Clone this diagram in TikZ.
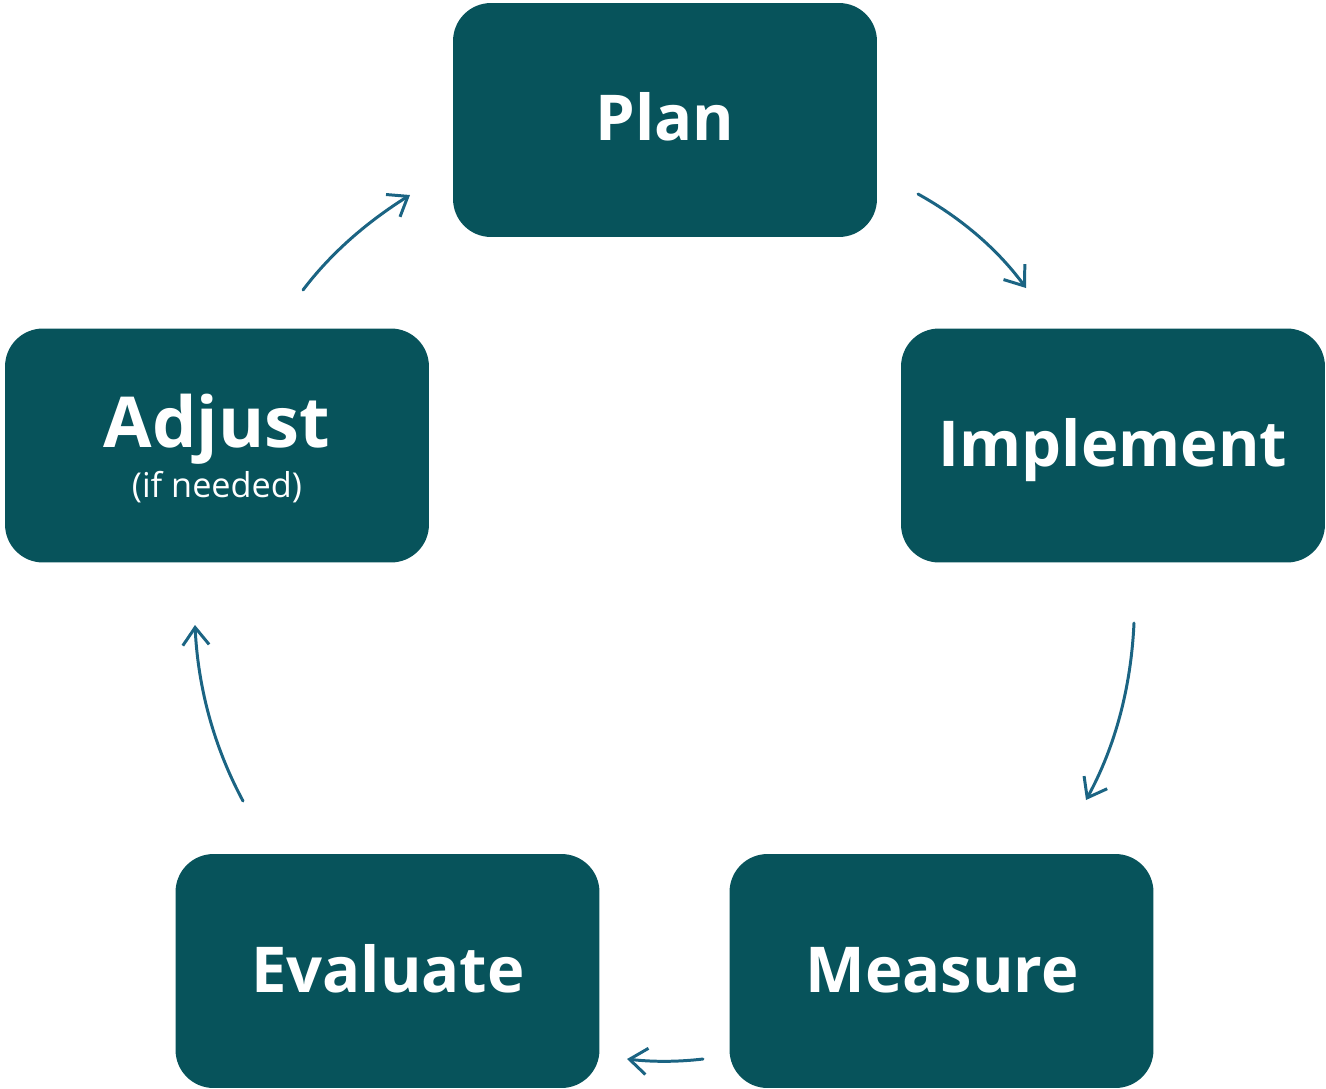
\documentclass[tikz,border=0pt]{standalone}
\usepackage{fontspec}
\setmainfont{Open Sans}
\usetikzlibrary{arrows.meta}
\definecolor{boxfill}{HTML}{07535B}
\definecolor{arrowcol}{HTML}{1B6483}
\begin{document}
\begin{tikzpicture}[x=0.02cm,y=-0.02cm,
  stagebox/.style={fill=boxfill,draw=none,rounded corners=0.76cm,minimum width=8.48cm,minimum height=4.68cm,inner sep=0pt},
  stagelabel/.style={text=white,font=\fontsize{36}{40}\selectfont\bfseries,anchor=base,inner sep=0pt},
  biglabel/.style={text=white,font=\fontsize{40}{44}\selectfont\bfseries,anchor=base,inner sep=0pt},
  sublabel/.style={text=white,font=\fontsize{19.5}{22}\selectfont,anchor=base,inner sep=0pt},
  cyclearrow/.style={draw=arrowcol,line width=1.7pt,line cap=round,-{Straight Barb[length=10pt,width=15pt,line width=1.7pt]}}]
\useasboundingbox (0,0) rectangle (1326,1089);
% boxes
\node[stagebox] (plan) at (665,120) {};
\node[stagebox] (impl) at (1113,445.5) {};
\node[stagebox] (adjust) at (217,445.5) {};
\node[stagebox] (measure) at (941.5,971) {};
\node[stagebox] (evaluate) at (387.5,971) {};
% labels
\node[stagelabel] (planL) at (665,140) {Plan};
\node[stagelabel] (implL) at (1113,466) {Implement};
\node[biglabel] (adjustL) at (217,447) {Adjust};
\node[sublabel] (adjustS) at (217,497) {(if needed)};
\node[stagelabel] (measureL) at (942,992) {Measure};
\node[stagelabel] (evaluateL) at (388,992) {Evaluate};
% arrow end points
\coordinate (a1s) at (303,290); \coordinate (a1e) at (410,195);
\coordinate (a2s) at (918,194); \coordinate (a2e) at (1026,288);
\coordinate (a3s) at (1134,623); \coordinate (a3e) at (1086,800);
\coordinate (a4s) at (703,1059); \coordinate (a4e) at (627,1059);
\coordinate (a5s) at (243,801); \coordinate (a5e) at (195,625);
\draw[cyclearrow] (a1s) .. controls (331,253) and (367,222) .. (a1e);
\draw[cyclearrow] (a2s) .. controls (963,219) and (999,251) .. (a2e);
\draw[cyclearrow] (a3s) .. controls (1131,688) and (1115,747) .. (a3e);
\draw[cyclearrow] (a4s) .. controls (678,1062) and (652,1062) .. (a4e);
\draw[cyclearrow] (a5s) .. controls (214,747) and (198,688) .. (a5e);
\end{tikzpicture}
\end{document}
